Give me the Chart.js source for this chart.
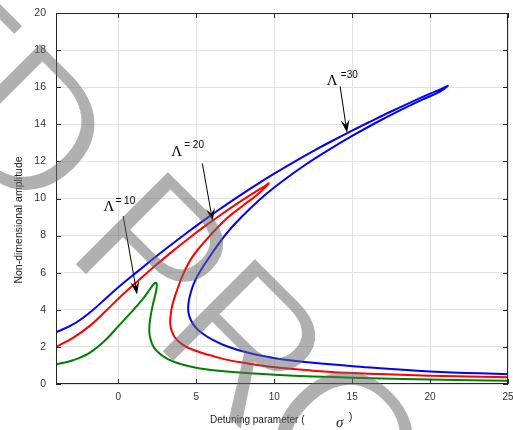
<!DOCTYPE html>
<html>
<head>
<meta charset="utf-8">
<script src="https://cdn.jsdelivr.net/npm/chart.js@4.4.1/dist/chart.umd.min.js"></script>
<style>
    html, body { margin: 0; padding: 0; background: #fff; }
    #wrap { width: 513px; height: 430px; }
</style>
</head>
<body>
<div id="wrap"><canvas id="responseChart" width="513" height="430"></canvas></div>
<script>
// tick labels
const xTicks = [0, 5, 10, 15, 20, 25];
const yTicks = [0, 2, 4, 6, 8, 10, 12, 14, 16, 18, 20];

// Lambda = 10 (green)
const sigma10 = [-4, -2.91, -1.85, -0.79, 0, 0.70, 1.55, 2.09, 2.30, 2.42, 2.47, 2.38, 2.22, 2.08, 1.99, 2.02, 2.30, 3.04, 4.11, 5.38, 6.09, 8.22, 10.03, 12.48, 15.03, 20.0, 25];
const amp10 = [1.05, 1.28, 1.68, 2.40, 3.12, 3.75, 4.56, 5.19, 5.40, 5.45, 5.30, 4.85, 4.30, 3.70, 3.10, 2.58, 1.95, 1.41, 1.05, 0.82, 0.74, 0.59, 0.50, 0.41, 0.34, 0.24, 0.17];

// Lambda = 20 (red)
const sigma20 = [-4, -2.91, -1.85, -0.79, 0, 1.34, 2.40, 3.47, 4.53, 5.38, 6.74, 7.81, 8.87, 9.40, 9.65,
                 9.45, 8.87, 8.0, 6.95, 5.67, 4.75, 4.15, 3.72, 3.45, 3.35, 3.33, 3.42, 3.60, 3.89, 4.3, 4.74, 5.38, 6.09, 7.0, 8.22, 10.03, 12.48, 15.03, 20.0, 25];
const amp20 = [2.0, 2.49, 3.12, 3.95, 4.60, 5.62, 6.40, 7.15, 7.86, 8.40, 9.22, 9.83, 10.40, 10.67, 10.82,
               10.62, 10.18, 9.62, 8.92, 7.80, 6.85, 5.90, 4.95, 4.20, 3.65, 3.25, 2.88, 2.55, 2.28, 2.03, 1.86, 1.67, 1.50, 1.30, 1.12, 0.90, 0.72, 0.59, 0.45, 0.36];

// Lambda = 30 (blue)
const sigma30 = [-4, -2.91, -1.85, -0.79, 0, 1.34, 2.40, 3.47, 4.32, 5.68, 6.74, 7.81, 8.87, 10.0, 11.2, 12.5, 13.8, 15.0, 16.2, 17.5, 18.8, 20.0, 20.8, 21.14,
                 20.6, 19.5, 18.0, 16.5, 15.0, 13.5, 12.0, 10.5, 9.5, 8.44, 7.5, 6.74, 5.6, 4.96, 4.65, 4.50, 4.50, 4.65, 4.95, 5.4, 6.06, 7.0, 8.22, 10.03, 12.48, 15.03, 20.0, 25];
const amp30 = [2.79, 3.21, 3.84, 4.62, 5.22, 6.14, 6.86, 7.56, 8.10, 8.94, 9.56, 10.17, 10.75, 11.34, 11.94, 12.56, 13.14, 13.66, 14.16, 14.69, 15.20, 15.65, 15.93, 16.07,
               15.75, 15.33, 14.72, 14.07, 13.37, 12.62, 11.82, 10.92, 10.25, 9.45, 8.65, 7.90, 6.54, 5.64, 4.95, 4.35, 3.85, 3.45, 3.05, 2.72, 2.38, 2.02, 1.71, 1.39, 1.14, 0.96, 0.68, 0.53];

// annotations
const lambdaTags = ["= 10", "= 20", "=30"];
const tagSigma = [-0.61, 3.75, 13.72];
const tagAmp = [9.55, 12.52, 16.31];
const eqSigma = [0.45, 4.86, 14.82];
const eqAmp = [9.86, 12.85, 16.66];
const arrowFrom = [[0.31, 9.06], [5.39, 11.89], [14.23, 16.04]];
const arrowTo = [[1.20, 4.83], [6.05, 8.77], [14.67, 13.55]];

const toPoints = (xs, ys) => xs.map((v, i) => ({ x: v, y: ys[i] }));

function drawArrow(ctx, x1, y1, x2, y2) {
    const dx = x2 - x1, dy = y2 - y1;
    const len = Math.hypot(dx, dy);
    const ux = dx / len, uy = dy / len;
    const nx = -uy, ny = ux;
    const L = 13, W = 4.5;
    ctx.beginPath();
    ctx.moveTo(x1, y1);
    ctx.lineTo(x2 - ux * L * 0.6, y2 - uy * L * 0.6);
    ctx.stroke();
    ctx.beginPath();
    ctx.moveTo(x2, y2);
    ctx.lineTo(x2 - ux * L + nx * W, y2 - uy * L + ny * W);
    ctx.lineTo(x2 - ux * L * 0.6, y2 - uy * L * 0.6);
    ctx.lineTo(x2 - ux * L - nx * W, y2 - uy * L - ny * W);
    ctx.closePath();
    ctx.fill();
}

// thin grey watermark drawn on its own canvas, then laid over the chart
function watermark(w, h) {
    const off = document.createElement("canvas");
    off.width = w;
    off.height = h;
    const c = off.getContext("2d");
    c.translate(61.7, 252.7);
    c.rotate(Math.PI / 4);
    c.font = "195px 'Liberation Sans'";
    if ("letterSpacing" in c) c.letterSpacing = "-7px";
    const lead = c.measureText("UNCORRECTED ").width;
    c.fillStyle = "rgb(105, 105, 105)";
    c.fillText("UNCORRECTED PROOF", -lead, 0);
    c.globalCompositeOperation = "destination-out";
    c.lineWidth = 4;
    c.strokeText("UNCORRECTED PROOF", -lead, 0);
    return off;
}

const overlay = {
    id: "overlay",
    afterDraw(chart) {
        const { ctx, chartArea: a, scales: { x, y } } = chart;
        ctx.save();

        // box and inward ticks
        ctx.strokeStyle = "#262626";
        ctx.lineWidth = 1;
        ctx.strokeRect(a.left + 0.5, a.top + 0.5, a.right - a.left - 1, a.bottom - a.top - 1);
        ctx.beginPath();
        xTicks.forEach(v => {
            const px = Math.round(x.getPixelForValue(v)) + 0.5;
            ctx.moveTo(px, a.bottom); ctx.lineTo(px, a.bottom - 5);
            ctx.moveTo(px, a.top); ctx.lineTo(px, a.top + 5);
        });
        yTicks.forEach(v => {
            const py = Math.round(y.getPixelForValue(v)) + 0.5;
            ctx.moveTo(a.left, py); ctx.lineTo(a.left + 5, py);
            ctx.moveTo(a.right, py); ctx.lineTo(a.right - 5, py);
        });
        ctx.stroke();

        // lambda labels with arrows
        ctx.fillStyle = "#000";
        ctx.strokeStyle = "#000";
        ctx.textAlign = "center";
        ctx.textBaseline = "middle";
        lambdaTags.forEach((t, i) => {
            ctx.font = "15px 'Liberation Serif'";
            ctx.fillText("\u039B", x.getPixelForValue(tagSigma[i]), y.getPixelForValue(tagAmp[i]));
            ctx.font = "10px 'Liberation Sans'";
            ctx.fillText(t, x.getPixelForValue(eqSigma[i]), y.getPixelForValue(eqAmp[i]));
            drawArrow(ctx,
                x.getPixelForValue(arrowFrom[i][0]), y.getPixelForValue(arrowFrom[i][1]),
                x.getPixelForValue(arrowTo[i][0]), y.getPixelForValue(arrowTo[i][1]));
        });

        // axis titles
        ctx.fillStyle = "#1a1a1a";
        ctx.font = "10px 'Liberation Sans'";
        ctx.textAlign = "left";
        ctx.textBaseline = "alphabetic";
        ctx.fillText("Detuning parameter (", 210, 423);
        ctx.font = "italic 15px 'Liberation Serif'";
        ctx.fillText("\u03C3", 336, 427);
        ctx.font = "10px 'Liberation Sans'";
        ctx.fillText(")", 349, 420);
        ctx.save();
        ctx.translate(22, 220);
        ctx.rotate(-Math.PI / 2);
        ctx.textAlign = "center";
        ctx.font = "10.5px 'Liberation Sans'";
        ctx.fillText("Non-dimensional amplitude", 0, 0);
        ctx.restore();

        ctx.globalAlpha = 0.52;
        ctx.drawImage(watermark(chart.width, chart.height), 0, 0);
        ctx.restore();
    }
};

const ctx = document.getElementById("responseChart").getContext("2d");

new Chart(ctx, {
    type: "scatter",
    data: {
        datasets: [
            { label: "\u039B = 10", data: toPoints(sigma10, amp10), borderColor: "#008000" },
            { label: "\u039B = 20", data: toPoints(sigma20, amp20), borderColor: "#ff0000" },
            { label: "\u039B = 30", data: toPoints(sigma30, amp30), borderColor: "#0000ff" },
        ].map(d => Object.assign(d, { showLine: true, pointRadius: 0, borderWidth: 2, tension: 0.4, fill: false })),
    },
    options: {
        responsive: false,
        animation: false,
        devicePixelRatio: 1,
        layout: { padding: { top: 13, right: 5, left: 0, bottom: 0 } },
        plugins: {
            legend: { display: false },
            tooltip: { enabled: false },
        },
        scales: {
            x: {
                type: "linear",
                min: -4,
                max: 25,
                afterBuildTicks: s => { s.ticks = xTicks.map(v => ({ value: v })); },
                afterFit: s => { s.height = 46; s.paddingLeft = 0; s.paddingRight = 0; },
                grid: { color: "#e2e2e2", drawTicks: false },
                border: { display: false },
                ticks: { color: "#333", padding: 7, font: { family: "'Liberation Sans'", size: 10 } },
            },
            y: {
                min: 0,
                max: 20,
                afterBuildTicks: s => { s.ticks = yTicks.map(v => ({ value: v })); },
                afterFit: s => { s.width = 56; s.paddingTop = 0; s.paddingBottom = 0; },
                grid: { color: "#e2e2e2", drawTicks: false },
                border: { display: false },
                ticks: { color: "#333", padding: 10, font: { family: "'Liberation Sans'", size: 10.5 } },
            },
        },
    },
    plugins: [overlay],
});
</script>
</body>
</html>
